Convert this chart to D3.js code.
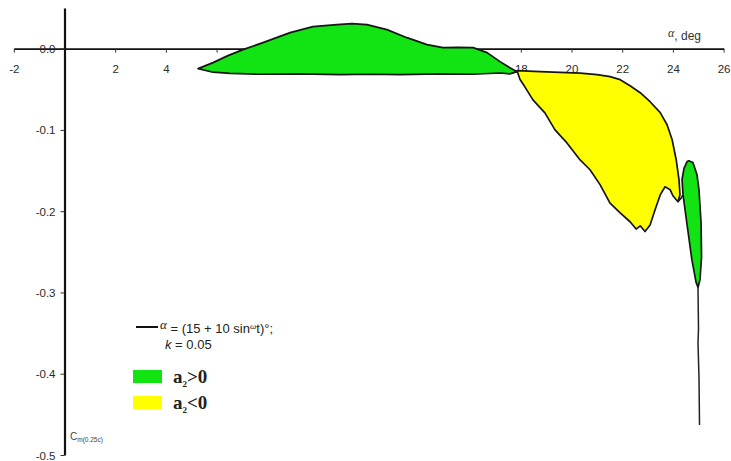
<!DOCTYPE html>
<html>
<head>
<meta charset="utf-8">
<script src="https://cdn.jsdelivr.net/npm/d3@7"></script>
<style>
  html, body { margin: 0; padding: 0; background: #fff; }
  svg { display: block; }
  .tick text { font-family: "Liberation Sans", Arial, sans-serif; font-size: 11.5px; fill: #2a2a2a; }
</style>
</head>
<body>
<svg id="chart" width="731" height="461"></svg>
<script>
// Pitching-moment hysteresis loop Cm(0.25c) vs angle of attack
// alpha = (15 + 10 sin wt) deg, reduced frequency k = 0.05

// Upper green lobe (a2 > 0): outline, alpha (deg) and Cm
const greenLoopAlpha = [5.27, 5.86, 6.45, 7.04, 7.83, 8.90, 9.80, 10.75, 11.34, 11.93, 12.72, 13.51, 14.30, 14.93, 15.5, 16.12, 16.67, 17.18, 17.57, 17.85,
                        17.57, 17.18, 16.12, 14.81, 13.23, 12.05, 10.87, 9.29, 7.71, 6.53, 5.86];
const greenLoopCm    = [-0.0246, -0.0172, -0.0086, -0.0012, 0.0074, 0.0197, 0.0271, 0.0296, 0.0308, 0.0296, 0.0234, 0.0135, 0.0049, 0.0012, 0.0015, 0.0012, -0.0049, -0.0160, -0.0234, -0.0283,
                        -0.0310, -0.0300, -0.0315, -0.0310, -0.0320, -0.0315, -0.0320, -0.0310, -0.0315, -0.0305, -0.0290];

// Yellow lobe (a2 < 0)
const yellowLoopAlpha = [17.85, 18.76, 19.55, 20.34, 21.01, 21.52, 21.92, 22.31, 22.71, 23.10, 23.50, 23.77, 23.97, 24.13, 24.24, 24.28, 24.20,
                         24.00, 23.89, 23.69, 23.50, 23.30, 23.10, 22.90, 22.71, 22.55, 22.31, 21.92, 21.52, 21.12, 20.73, 20.34, 19.82, 19.35, 18.95, 18.48, 18.16, 17.97];
const yellowLoopCm    = [-0.0271, -0.0283, -0.0292, -0.0302, -0.0320, -0.0345, -0.0382, -0.0456, -0.0542, -0.0653, -0.0788, -0.0936, -0.1121, -0.1367, -0.1613, -0.1798, -0.1884,
                         -0.1810, -0.1736, -0.1700, -0.1800, -0.1980, -0.2170, -0.2250, -0.2180, -0.2220, -0.2130, -0.2020, -0.1900, -0.1670, -0.1490, -0.1370, -0.1160, -0.1000, -0.0790, -0.0630, -0.0470, -0.0380];

// Narrow green lobe near maximum incidence
const spikeLoopAlpha = [24.63, 24.79, 24.95, 25.03, 25.11, 25.13, 25.07, 24.99, 24.91, 24.75, 24.56, 24.40, 24.36, 24.44, 24.56];
const spikeLoopCm    = [-0.138, -0.140, -0.155, -0.174, -0.214, -0.256, -0.284, -0.294, -0.287, -0.260, -0.217, -0.180, -0.161, -0.147, -0.139];

// Link between the yellow lobe and the narrow lobe
const linkAlpha = [24.20, 24.32, 24.40];
const linkCm    = [-0.1884, -0.1840, -0.1800];

// Stall tail below the narrow lobe
const tailAlpha = [24.99, 25.01, 24.99, 25.03, 25.05];
const tailCm    = [-0.294, -0.345, -0.362, -0.405, -0.463];

// Axis ticks
const xTicks = [-2, 2, 4, 6, 8, 10, 12, 14, 16, 18, 20, 22, 24, 26];
const yTicks = [0, -0.1, -0.2, -0.3, -0.4, -0.5];

const svg = d3.select("#chart");

const x = d3.scaleLinear().domain([-2, 26]).range([13.8, 723.6]);
const y = d3.scaleLinear().domain([0.05, -0.5]).range([8, 455]);

const zip = (a, c) => a.map((v, i) => [v, c[i]]);
const line = d3.line().x(d => x(d[0])).y(d => y(d[1]));

// Filled lobes
function lobe(al, cm, fill) {
  svg.append("path")
    .attr("d", line(zip(al, cm)) + "Z")
    .attr("fill", fill)
    .attr("stroke", "#161616")
    .attr("stroke-width", 1.7)
    .attr("stroke-linejoin", "round");
}

// X axis through Cm = 0
const xAxis = d3.axisBottom(x)
  .tickValues(xTicks)
  .tickFormat(d => d < 0 ? "-" + Math.abs(d) : String(d))
  .tickSize(4)
  .tickSizeOuter(0)
  .tickPadding(12);
const gx = svg.append("g").attr("transform", `translate(0,${y(0)})`).call(xAxis);
gx.select(".domain").attr("stroke", "#111").attr("stroke-width", 1.6);
gx.selectAll(".tick line").attr("stroke", "#333");

lobe(greenLoopAlpha, greenLoopCm, "#12e312");
lobe(yellowLoopAlpha, yellowLoopCm, "#ffff00");
lobe(spikeLoopAlpha, spikeLoopCm, "#12e312");

svg.append("path").attr("d", line(zip(linkAlpha, linkCm)))
  .attr("fill", "none").attr("stroke", "#161616").attr("stroke-width", 1.6);
svg.append("path").attr("d", line(zip(tailAlpha, tailCm)))
  .attr("fill", "none").attr("stroke", "#222").attr("stroke-width", 1.5);

// Y axis at alpha = 0
const yAxis = d3.axisLeft(y)
  .tickValues(yTicks)
  .tickFormat(d => d === 0 ? "0.0" : "-" + Math.abs(d).toFixed(1))
  .tickSize(4)
  .tickSizeOuter(0)
  .tickPadding(5);
const gy = svg.append("g").attr("transform", `translate(${x(0)},0)`).call(yAxis);
gy.select(".domain").attr("stroke", "#111").attr("stroke-width", 2.2);
gy.selectAll(".tick line").attr("stroke", "#333");
gy.selectAll(".tick text").attr("dy", "0.35em");

// Axis titles
const ax = svg.append("text")
  .attr("x", 668).attr("y", 40)
  .attr("font-family", "Liberation Sans, Arial, sans-serif")
  .attr("font-size", 12).attr("fill", "#333");
ax.append("tspan").attr("font-family", "Liberation Serif, serif").attr("font-style", "italic")
  .attr("dy", -3).text("α");
ax.append("tspan").attr("dy", 3).text(", deg");

const cy = svg.append("text")
  .attr("x", 70).attr("y", 440)
  .attr("font-family", "Liberation Sans, Arial, sans-serif")
  .attr("font-size", 10).attr("fill", "#444");
cy.append("tspan").text("C");
cy.append("tspan").attr("font-size", 6.5).attr("dy", 2).text("m(0.25c)");

// Legend
svg.append("line").attr("x1", 136).attr("x2", 158).attr("y1", 327).attr("y2", 327)
  .attr("stroke", "#111").attr("stroke-width", 2);
const lg = svg.append("text").attr("x", 160).attr("y", 333)
  .attr("font-family", "Liberation Sans, Arial, sans-serif")
  .attr("font-size", 13).attr("fill", "#222");
lg.append("tspan").attr("font-family", "Liberation Serif, serif").attr("font-style", "italic")
  .attr("font-size", 13).attr("dy", -4).text("α");
lg.append("tspan").attr("dy", 4).text(" = (15 + 10 sin");
lg.append("tspan").attr("font-family", "Liberation Serif, serif").attr("font-style", "italic")
  .attr("font-size", 9).attr("dy", -4).text("ω");
lg.append("tspan").attr("dy", 4).text("t)°;");
const lk = svg.append("text").attr("x", 165).attr("y", 349)
  .attr("font-family", "Liberation Sans, Arial, sans-serif")
  .attr("font-size", 13).attr("fill", "#222");
lk.append("tspan").attr("font-style", "italic").text("k");
lk.append("tspan").text(" = 0.05");

const legendItems = [
  { fill: "#12e312", sign: ">0", y: 370 },
  { fill: "#ffff00", sign: "<0", y: 396 }
];
legendItems.forEach(it => {
  svg.append("rect").attr("x", 133).attr("y", it.y).attr("width", 29).attr("height", 13)
    .attr("fill", it.fill);
  const t = svg.append("text").attr("x", 173).attr("y", it.y + 13)
    .attr("font-family", "Liberation Serif, serif").attr("font-weight", "bold")
    .attr("font-size", 19).attr("fill", "#222");
  t.append("tspan").text("a");
  t.append("tspan").attr("font-size", 9).attr("dy", 4).text("2");
  t.append("tspan").attr("dy", -4).text(it.sign);
});
</script>
</body>
</html>
